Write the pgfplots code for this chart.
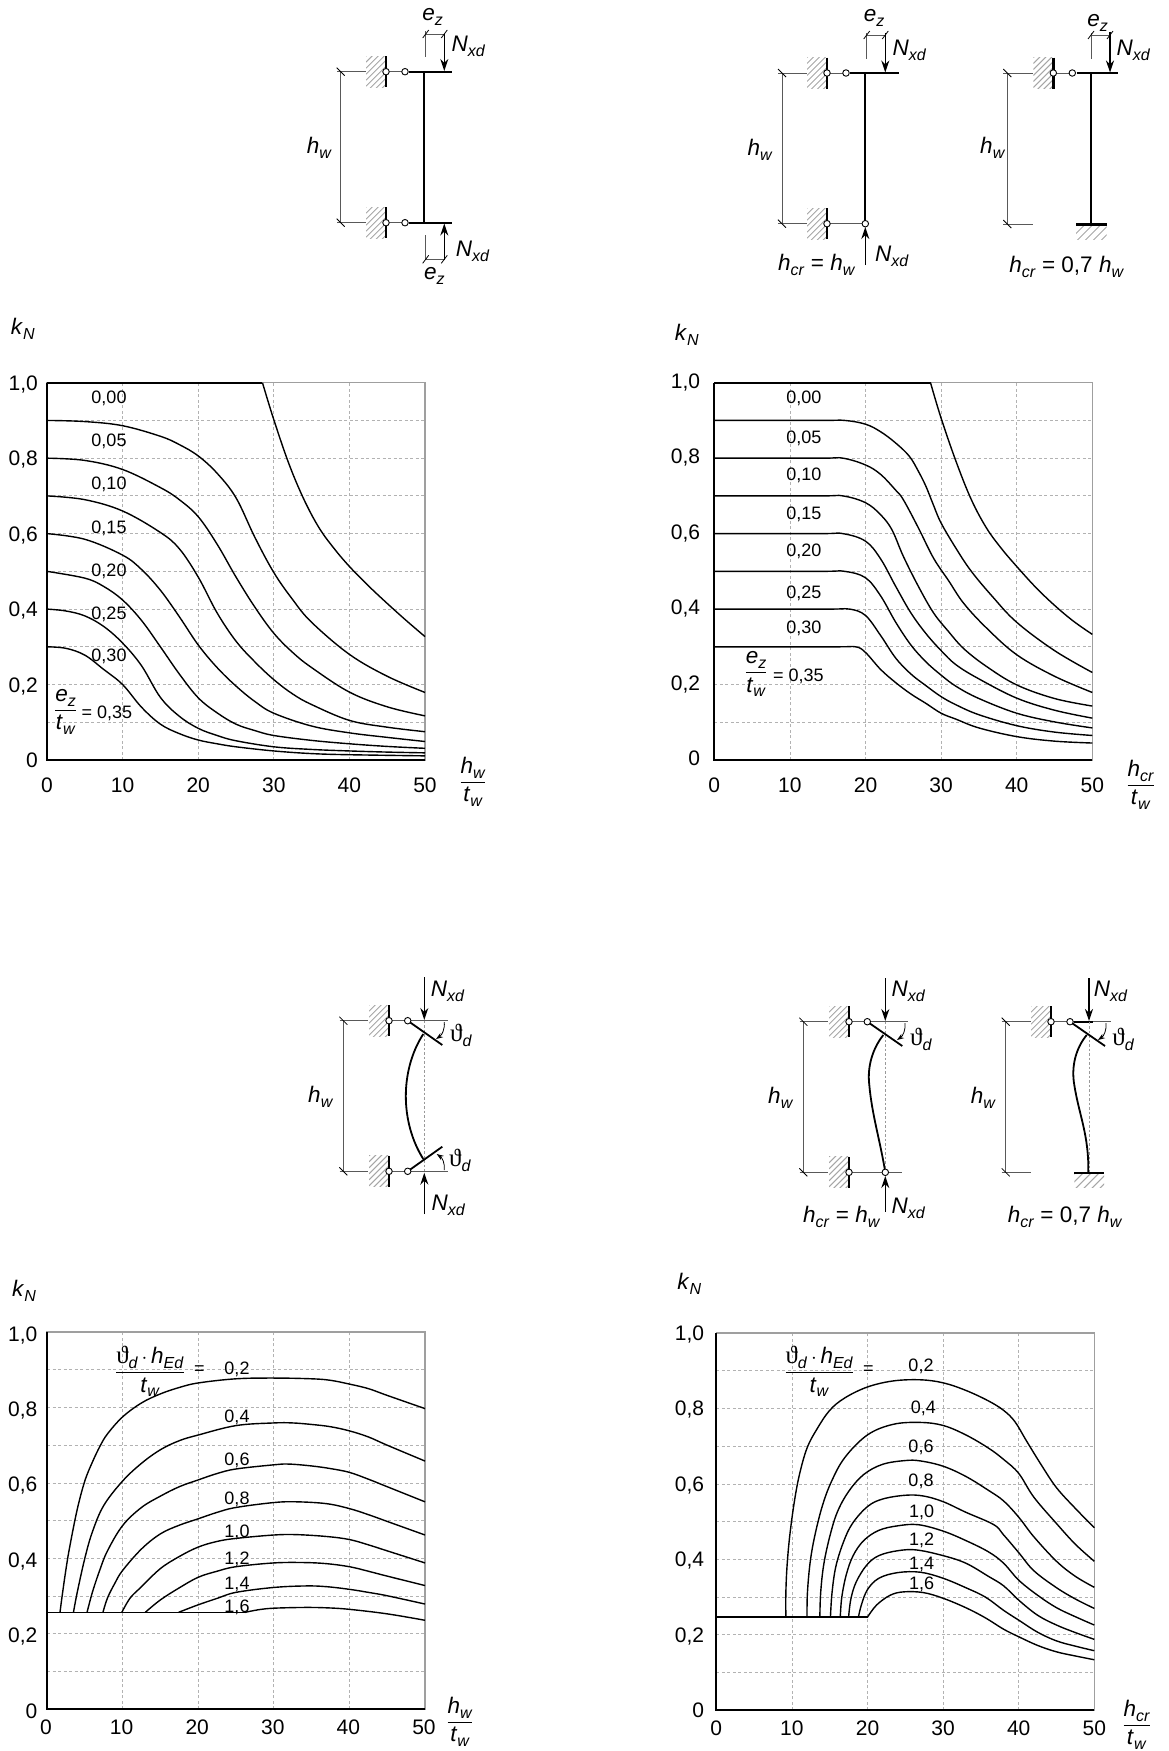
\documentclass[border=0pt]{standalone}
\usepackage{pgfplots}
\pgfplotsset{compat=1.18}
\usepackage{fontspec}
\setmainfont{Liberation Sans}
\newfontfamily\thetafont{Liberation Serif}
\usetikzlibrary{arrows.meta}

% text helpers
\newcommand{\ssub}[2]{\textit{#1}\raisebox{-.22em}{\fontsize{16}{18}\selectfont\textit{#2}}}
\newcommand{\vth}{{\thetafont\fontsize{25}{27}\selectfont ϑ}\raisebox{-.22em}{\fontsize{16}{18}\selectfont\textit{d}}}
\newcommand{\frc}[2]{$\displaystyle{\hbox{#1}\over\hbox{#2}}$}

\pgfplotsset{
  kn/.style={
    scale only axis, width=378pt, height=377.3pt,
    xmin=0, xmax=50, ymin=0, ymax=1,
    xtick={0,10,20,30,40,50},
    ytick={0,0.2,0.4,0.6,0.8,1},
    yticklabels={0,{0,2},{0,4},{0,6},{0,8},{1,0}},
    minor ytick={0.1,0.3,0.5,0.7,0.9},
    major tick length=0pt, minor tick length=0pt,
    tick style={draw=none},
    grid=both,
    grid style={gray!60, line width=0.8pt, dash pattern=on 3pt off 2.5pt},
    minor grid style={gray!60, line width=0.8pt, dash pattern=on 3pt off 2.5pt},
    axis line style={gray!75, line width=1.2pt},
    /pgf/number format/assume math mode=true,
    tick label style={font=\fontsize{21}{24}\selectfont, inner sep=0pt, text height=15pt, text depth=0pt},
    xticklabel style={anchor=center, yshift=-25pt},
    yticklabel style={anchor=east, xshift=-9pt},
    clip=false,
  },
  cv/.style={black, line width=1.4pt, smooth, tension=0.6, no markers, forget plot},
  fl/.style={black, line width=1.7pt, no markers, forget plot},
  fr/.style={black, line width=2.2pt, no markers, forget plot},
}

% schematic parts, coordinates are reference pixels
\tikzset{
  thn/.style={gray!70!black, line width=1pt},
  thk/.style={black, line width=1.8pt},
  wl/.style={black, line width=2.6pt},
  htc/.style={gray!70, line width=1pt},
  arw/.style={black, line width=1.4pt, -{Stealth[length=12pt,width=8pt]}},
  pin/.style={circle, draw=black, fill=white, line width=0.9pt, inner sep=0pt, minimum size=6.5pt},
  lb/.style={font=\fontsize{22.5}{25}\selectfont, inner sep=0pt},
  nm/.style={font=\fontsize{18}{21}\selectfont, inner sep=0pt, text height=13pt, text depth=0pt},
}
\newcommand{\wall}[3]{% wall x, y, second pin x
  \begin{scope}
    \clip (#1-20,#2-15.5) rectangle (#1,#2+15.5);
    \foreach \k in {0,6,...,54} \draw[htc,shift={(#1,#2)}] (-20,-15.5+\k) -- (0,-35.5+\k);
  \end{scope}
  \draw[thn] (#1,#2) -- (#3,#2);
  \draw[wl] (#1,#2-15.5) -- (#1,#2+15.5);
  \node[pin] at (#1,#2) {};
  \node[pin] at (#3,#2) {};
}
\newcommand{\grnd}[3]{% ground x0, x1, y
  \begin{scope}
    \clip (#1,#3) rectangle (#2,#3+15);
    \foreach \k in {0,8,...,48} \draw[htc,shift={(#1,#3)}] (-15+\k,16) -- (1+\k,0);
  \end{scope}
  \draw[wl] (#1,#3) -- (#2,#3);
}
\newcommand{\tka}[2]{\draw[black, line width=0.8pt] (#1-4,#2-4) -- (#1+4,#2+4);}
\newcommand{\tkb}[2]{\draw[black, line width=0.8pt] (#1-3,#2+4) -- (#1+3,#2-4);}
\newcommand{\dimv}[3]{% dim line x, y0, y1 with extension lines
  \draw[thn] (#1,#2) -- (#1,#3);
  \tka{#1}{#2}\tka{#1}{#3}
}

\begin{document}
\begin{tikzpicture}
\path[use as bounding box] (0pt,0pt) rectangle (1168pt,-1751pt);

% top left
\begin{axis}[kn, at={(47pt,-760pt)}, anchor=south west]
\addplot[fr] coordinates {(0,1) (28.5,1)};
\addplot[cv] coordinates {(28.5,1) (30,.902) (32,.785) (34,.69) (36,.615) (38,.56) (40,.513) (42.5,.462) (45,.415) (47.5,.37) (50,.327)};
\addplot[cv] coordinates {(0,.9) (5,.897) (10,.886) (15,.858) (17.5,.836) (20,.806) (22.5,.76) (25,.695) (27.5,.59) (30,.497) (32.5,.425) (35,.365) (40,.28) (45,.222) (50,.179)};
\addplot[cv] coordinates {(0,.8) (5,.794) (10,.77) (15,.722) (17.5,.69) (20,.645) (22.5,.572) (25,.485) (27.5,.405) (30,.336) (32.5,.285) (35,.245) (40,.18) (45,.141) (50,.117)};
\addplot[cv] coordinates {(0,.7) (5,.69) (10,.66) (15,.603) (17.5,.56) (20,.485) (22.5,.39) (25,.315) (27.5,.26) (30,.213) (32.5,.175) (35,.147) (40,.105) (45,.087) (50,.075)};
\addplot[cv] coordinates {(0,.6) (5,.585) (10,.543) (12.5,.505) (15,.45) (17.5,.38) (20,.305) (22.5,.245) (25,.196) (27.5,.155) (30,.124) (35,.09) (40,.072) (45,.06) (50,.049)};
\addplot[cv] coordinates {(0,.5) (5,.482) (7.5,.46) (10,.424) (12.5,.37) (15,.3) (17.5,.228) (20,.165) (22.5,.125) (25,.095) (27.5,.078) (30,.065) (35,.052) (40,.043) (45,.036) (50,.031)};
\addplot[cv] coordinates {(0,.4) (2.5,.395) (5,.382) (7.5,.354) (10,.31) (12.5,.25) (15,.166) (17.5,.116) (20,.084) (22.5,.065) (25,.051) (30,.035) (35,.028) (40,.024) (45,.021) (50,.019)};
\addplot[cv] coordinates {(0,.3) (2.5,.296) (5,.278) (7.5,.24) (10,.2) (12.5,.14) (15,.095) (17.5,.07) (20,.053) (22.5,.043) (25,.035) (30,.024) (35,.017) (40,.014) (50,.011)};
\addplot[fr] coordinates {(0,1) (0,0) (50,0)};
\end{axis}

% top right
\begin{axis}[kn, at={(714.3pt,-760pt)}, anchor=south west,
  yticklabel style={xshift=-5pt, yshift=2pt}]
\addplot[fr] coordinates {(0,1) (28.6,1)};
\addplot[cv] coordinates {(28.6,1) (30,.906) (32,.79) (34,.69) (36,.615) (38,.56) (40,.513) (42.5,.458) (45,.41) (47.5,.368) (50,.333)};
\addplot[cv] coordinates {(0,.9) (14,.9) (17.25,.9) (20,.89) (22,.87) (24,.84) (25.8,.805) (27,.765) (28,.725) (29,.675) (30,.628) (32,.56) (34,.5) (36.8,.433) (40,.365) (45,.29) (50,.232)};
\addplot[cv] coordinates {(0,.8) (14,.8) (17,.8) (20,.782) (22,.757) (24,.715) (25,.69) (27,.615) (29,.535) (31,.475) (33,.415) (36,.35) (40,.279) (45,.222) (50,.179)};
\addplot[cv] coordinates {(0,.7) (14,.7) (17,.7) (20,.682) (22,.65) (23.5,.61) (25,.54) (27,.46) (29,.39) (31,.34) (33,.295) (36,.248) (40,.199) (45,.163) (50,.143)};
\addplot[cv] coordinates {(0,.6) (14,.6) (17,.6) (20,.58) (22,.533) (24,.46) (26,.39) (28,.335) (30,.29) (32,.252) (35,.215) (40,.164) (45,.132) (50,.111)};
\addplot[cv] coordinates {(0,.5) (14,.5) (17.25,.5) (20,.483) (22,.435) (24,.365) (26,.305) (28,.26) (30,.225) (32,.195) (35,.163) (40,.124) (45,.101) (50,.085)};
\addplot[cv] coordinates {(0,.4) (15,.4) (17.9,.4) (20,.383) (22,.33) (24,.27) (26,.228) (28,.197) (30,.168) (32,.146) (35,.12) (40,.091) (45,.074) (50,.065)};
\addplot[cv] coordinates {(0,.3) (16,.3) (18.7,.3) (20,.285) (22,.24) (24,.205) (26,.175) (28,.15) (30,.124) (32,.108) (35,.085) (40,.062) (45,.05) (50,.045)};
\addplot[fr] coordinates {(0,1) (0,0) (50,0)};
\end{axis}

% bottom left
\begin{axis}[kn, at={(47pt,-1709.3pt)}, anchor=south west,
  xticklabel style={yshift=7.5pt, xshift=-1pt},
  yticklabel style={xshift=-0.5pt, yshift=-1.5pt}]
\addplot[fl] coordinates {(0,.257) (26.2,.257)};
\addplot[cv] coordinates {(1.72,.257) (2,.30) (2.5,.37) (3,.43) (4,.53) (5,.605) (6,.655) (7,.697) (8,.73) (10,.775) (12.5,.812) (15,.836) (17.5,.853) (20,.865) (25,.876) (30,.878) (35,.876) (37.5,.872) (40,.862) (42.5,.85) (45,.832) (50,.797)};
\addplot[cv] coordinates {(3.5,.257) (4,.31) (5,.4) (6,.47) (7.5,.54) (10,.605) (12.5,.652) (15,.688) (17.5,.712) (20,.727) (25,.752) (30,.759) (32.5,.759) (35,.755) (37.5,.749) (40,.738) (42.5,.722) (45,.7) (50,.658)};
\addplot[cv] coordinates {(5.3,.257) (6,.31) (7,.37) (8,.42) (10,.487) (12.5,.535) (15,.565) (17.5,.59) (20,.608) (22.5,.625) (25,.637) (30,.648) (32,.65) (35,.645) (37.5,.638) (40,.628) (42.5,.61) (45,.59) (50,.55)};
\addplot[cv] coordinates {(7.4,.257) (8,.295) (9,.335) (10,.368) (12.5,.425) (15,.465) (17.5,.488) (20,.505) (22.5,.522) (25,.535) (30,.548) (33,.55) (37,.545) (40,.532) (42.5,.516) (45,.498) (50,.462)};
\addplot[cv] coordinates {(9.9,.257) (11,.295) (12.5,.325) (15,.373) (17.5,.405) (20,.43) (22.5,.445) (25,.453) (30,.462) (33,.463) (37,.458) (40,.45) (42.5,.436) (45,.42) (50,.388)};
\addplot[cv] coordinates {(13,.257) (15,.29) (17.5,.322) (20,.35) (22.5,.366) (25,.378) (30,.388) (34,.389) (37,.386) (40,.378) (42.5,.366) (45,.353) (50,.328)};
\addplot[cv] coordinates {(17.4,.257) (20,.277) (22.5,.294) (25,.31) (30,.323) (34.3,.327) (37,.325) (40,.318) (42.5,.31) (45,.301) (50,.279)};
\addplot[cv] coordinates {(26.2,.257) (28,.264) (30,.268) (34,.27) (37,.269) (40,.265) (45,.253) (50,.236)};
\addplot[fr] coordinates {(0,1) (0,0) (50,0)};
\end{axis}

% bottom right
\begin{axis}[kn, at={(716.3pt,-1710.3pt)}, anchor=south west,
  xticklabel style={yshift=7pt},
  yticklabel style={xshift=-3pt}]
\addplot[fl] coordinates {(0,.247) (20,.247)};
\addplot[cv] coordinates {(9.2,.247) (9.2,.31) (9.35,.38) (9.7,.46) (10.3,.55) (11,.625) (12,.695) (13.3,.745) (15,.795) (17,.828) (20,.857) (23.4,.873) (27,.876) (30,.868) (33,.848) (36,.82) (38,.795) (39.5,.765) (41,.715) (43,.65) (45,.59) (47.5,.535) (50,.484)};
\addplot[cv] coordinates {(12,.247) (12.05,.31) (12.4,.39) (13,.46) (14,.54) (15.2,.605) (17,.67) (20,.73) (23.4,.758) (27,.763) (30,.755) (33,.73) (36,.695) (38,.665) (40,.628) (42,.565) (45,.495) (47.5,.44) (50,.395)};
\addplot[cv] coordinates {(13.7,.247) (13.8,.31) (14.2,.385) (15,.46) (16,.525) (17.5,.58) (19.5,.625) (22,.652) (25,.662) (27,.661) (30,.647) (33,.62) (36,.583) (38,.555) (40,.512) (42,.46) (45,.395) (47.5,.355) (50,.326)};
\addplot[cv] coordinates {(15.1,.247) (15.3,.31) (15.8,.38) (16.8,.445) (18,.495) (20,.54) (22,.56) (25,.57) (27.4,.568) (30,.553) (33,.525) (36.7,.492) (38,.465) (40,.418) (42,.37) (45,.325) (47.5,.295) (50,.27)};
\addplot[cv] coordinates {(16.4,.247) (16.6,.3) (17.2,.36) (18.1,.41) (19.5,.45) (21.5,.477) (24,.489) (26.7,.492) (30,.475) (33,.45) (36,.42) (38,.39) (40,.345) (42.5,.305) (45,.272) (47.5,.248) (50,.226)};
\addplot[cv] coordinates {(17.5,.247) (17.8,.295) (18.5,.34) (19.9,.385) (21.5,.41) (24,.423) (26.5,.425) (30,.41) (33,.39) (36,.355) (38,.33) (40,.292) (42.5,.252) (45,.226) (47.5,.206) (50,.188)};
\addplot[cv] coordinates {(18.8,.247) (19.2,.28) (20,.32) (21.5,.35) (24,.365) (27,.366) (30,.35) (33,.325) (35.6,.3) (38,.265) (40,.239) (42.5,.207) (45,.184) (47.5,.17) (50,.158)};
\addplot[cv] coordinates {(20,.247) (21.2,.279) (23,.305) (24.8,.314) (27.4,.312) (30,.297) (33,.272) (35.6,.245) (38,.215) (40,.195) (42.5,.172) (45,.155) (47.5,.144) (50,.134)};
\addplot[fr] coordinates {(0,1) (0,0) (50,0)};
\end{axis}

\begin{scope}[x=1pt,y=-1pt]
% curve labels
\foreach \t/\yy in {{0,00}/396.7,{0,05}/440,{0,10}/483,{0,15}/526.7,{0,20}/570,{0,25}/612.7,{0,30}/655}
  \node[nm] at (109,\yy) {\t};
\node[lb] at (65.7,711.7) {\frc{\ssub{e}{z}}{\ssub{t}{w}}};
\node[nm] at (107,712) {= 0,35};
\node[lb] at (473,781.7) {\frc{\ssub{h}{w}}{\ssub{t}{w}}};
\node[lb] at (22.7,329) {\ssub{k}{N}};

\foreach \t/\yy in {{0,00}/396.7,{0,05}/436.7,{0,10}/474.3,{0,15}/513.3,{0,20}/550,{0,25}/591.7,{0,30}/626.7}
  \node[nm] at (803.9,\yy) {\t};
\node[lb] at (756,674.3) {\frc{\ssub{e}{z}}{\ssub{t}{w}}};
\node[nm] at (798.3,675) {= 0,35};
\node[lb] at (1140.7,785) {\frc{\ssub{h}{cr}}{\ssub{t}{w}}};
\node[lb] at (686.7,335) {\ssub{k}{N}};

\foreach \t/\yy in {{0,2}/1368.3,{0,4}/1416,{0,6}/1459.3,{0,8}/1498.3,{1,0}/1530.7,{1,2}/1557.7,{1,4}/1582.7,{1,6}/1605.7}
  \node[nm] at (237,\yy) {\t};
\node[lb] at (150,1371.7) {\frc{\vth\,$\cdot$\,\ssub{h}{Ed}}{\ssub{t}{w}}};
\node[nm] at (199.3,1368.3) {=};
\node[lb] at (460,1721.7) {\frc{\ssub{h}{w}}{\ssub{t}{w}}};
\node[lb] at (24,1290.7) {\ssub{k}{N}};

\foreach \t/\xx/\yy in {{0,2}/921/1365,{0,4}/923.3/1407.3,{0,6}/921/1446,{0,8}/921/1480,{1,0}/921.7/1510.7,{1,2}/921.7/1539.3,{1,4}/921.7/1563.3,{1,6}/921.7/1583.3}
  \node[nm] at (\xx,\yy) {\t};
\node[lb] at (819.3,1371.7) {\frc{\vth\,$\cdot$\,\ssub{h}{Ed}}{\ssub{t}{w}}};
\node[nm] at (868.3,1367.7) {=};
\node[lb] at (1136.7,1725) {\frc{\ssub{h}{cr}}{\ssub{t}{w}}};
\node[lb] at (689.3,1284) {\ssub{k}{N}};

% schematic top left
\draw[thn] (337,71.7) -- (366,71.7); \draw[thn] (337,222.7) -- (366,222.7);
\dimv{340.7}{71.7}{222.7}
\wall{386}{71.7}{405}\wall{386}{222.7}{405}
\draw[thk] (409,71.7) -- (452,71.7); \draw[thk] (409,222.7) -- (452,222.7);
\draw[thk] (424.3,71.7) -- (424.3,222.7);
\draw[arw] (444.3,34) -- (444.3,71);
\draw[arw] (444.3,260) -- (444.3,223.5);
\draw[thn] (425.7,31) -- (425.7,57.3); \draw[thn] (425.7,34) -- (444.3,34);
\tkb{425.7}{34}\tkb{444.3}{34}
\draw[thn] (425.7,235) -- (425.7,260); \draw[thn] (425.7,259.3) -- (444.3,259.3);
\tkb{425.7}{259.3}\tkb{444.3}{259.3}
\node[lb] at (432.7,16.7) {\ssub{e}{z}};
\node[lb] at (468.3,46.7) {\ssub{N}{xd}};
\node[lb] at (434.3,276) {\ssub{e}{z}};
\node[lb] at (472.7,251.7) {\ssub{N}{xd}};
\node[lb] at (319.3,147.7) {\ssub{h}{w}};

% schematic top middle
\draw[thn] (778,73) -- (807,73); \draw[thn] (778,223.7) -- (807,223.7);
\dimv{782}{73}{223.7}
\wall{827}{73}{846}\wall{827}{223.7}{865.3}
\draw[thk] (850,73) -- (899,73);
\draw[thk] (865.3,73) -- (865.3,220.5);
\draw[arw] (885.3,33) -- (885.3,72.5);
\draw[arw] (865.3,265) -- (865.3,227);
\draw[thn] (866.7,33) -- (866.7,59); \draw[thn] (866.7,35) -- (885.3,35);
\tkb{866.7}{35}\tkb{885.3}{35}
\node[lb] at (874,18.3) {\ssub{e}{z}};
\node[lb] at (909.3,50) {\ssub{N}{xd}};
\node[lb] at (892,256.7) {\ssub{N}{xd}};
\node[lb] at (760,150) {\ssub{h}{w}};
\node[lb] at (816.7,265) {\ssub{h}{cr} = \ssub{h}{w}};

% schematic top right
\draw[thn] (1003.3,73) -- (1033,73); \draw[thn] (1003.3,224) -- (1033.3,224);
\dimv{1007.3}{73}{224}
\wall{1053.3}{73}{1072.3}
\draw[thk] (1076.7,73) -- (1118.3,73);
\draw[thk] (1091.3,73) -- (1091.3,224);
\grnd{1076}{1106.7}{224.5}
\draw[arw] (1110,31.7) -- (1110,72.5);
\draw[thn] (1091,33) -- (1091,59); \draw[thn] (1091,35) -- (1110,35);
\tkb{1091}{35}\tkb{1110}{35}
\node[lb] at (1097.7,22.7) {\ssub{e}{z}};
\node[lb] at (1133.3,50) {\ssub{N}{xd}};
\node[lb] at (992.7,148.3) {\ssub{h}{w}};
\node[lb] at (1066.7,266.7) {\ssub{h}{cr} = 0,7 \ssub{h}{w}};

% schematic bottom left
\draw[thn] (339.5,1020.7) -- (368,1020.7); \draw[thn] (339.5,1171.3) -- (368,1171.3);
\dimv{343.3}{1020.7}{1171.3}
\draw[thn] (407.7,1020.7) -- (448.3,1020.7); \draw[thn] (407.7,1171.3) -- (448.3,1171.3);
\draw[gray!80, line width=0.7pt, dash pattern=on 2.5pt off 2pt] (424.3,1020.7) -- (424.3,1171.3);
\draw[thk] (407.7,1020.7) -- (442.3,1045); \draw[thk] (407.7,1171.3) -- (442.3,1146.7);
\draw[thk] (423.3,1034) .. controls (400,1070) and (400,1122) .. (423.3,1159);
\wall{389}{1020.7}{407.7}\wall{389}{1171.3}{407.7}
\draw[arw] (424.3,977.3) -- (424.3,1020);
\draw[arw] (424.3,1214) -- (424.3,1172.7);
\draw[black, line width=0.8pt, -{Stealth[length=7pt,width=5pt]}] (444.3,1022) to[bend left=30] (436,1039);
\draw[black, line width=0.8pt, -{Stealth[length=7pt,width=5pt]}] (444.3,1170) to[bend right=30] (436.7,1154);
\node[lb] at (447.7,991.7) {\ssub{N}{xd}};
\node[lb] at (448.3,1205.7) {\ssub{N}{xd}};
\node[lb] at (461,1035) {\vth};
\node[lb] at (460,1160) {\vth};
\node[lb] at (320.7,1096.7) {\ssub{h}{w}};

% schematic bottom middle
\draw[thn] (799.5,1021.7) -- (828,1021.7); \draw[thn] (799.5,1172.3) -- (828,1172.3);
\dimv{803.3}{1021.7}{1172.3}
\draw[thn] (867.3,1021.7) -- (907.7,1021.7); \draw[thn] (849,1172.3) -- (901.7,1172.3);
\draw[gray!80, line width=0.7pt, dash pattern=on 2.5pt off 2pt] (885.3,1021.7) -- (885.3,1172.3);
\draw[thk] (867.3,1021.7) -- (902.3,1046);
\draw[thk] (883.3,1035) .. controls (873,1048) and (867,1066) .. (869.3,1085) .. controls (872,1115) and (880,1140) .. (885.3,1172.3);
\wall{849}{1021.7}{867.3}\wall{849}{1172.3}{885.3}
\draw[arw] (885.3,978.3) -- (885.3,1021);
\draw[arw] (885.3,1211.7) -- (885.3,1176);
\draw[black, line width=0.8pt, -{Stealth[length=7pt,width=5pt]}] (905,1023) to[bend left=30] (897,1040);
\node[lb] at (908.3,991.7) {\ssub{N}{xd}};
\node[lb] at (908.3,1208.3) {\ssub{N}{xd}};
\node[lb] at (921,1039.3) {\vth};
\node[lb] at (780.7,1098.3) {\ssub{h}{w}};
\node[lb] at (841.7,1216.7) {\ssub{h}{cr} = \ssub{h}{w}};

% schematic bottom right
\draw[thn] (1001.7,1021.7) -- (1031,1021.7); \draw[thn] (1001.7,1172.3) -- (1031,1172.3);
\dimv{1005.7}{1021.7}{1172.3}
\draw[thn] (1070,1021.7) -- (1110.7,1021.7);
\draw[thk] (1074,1021.7) -- (1093,1021.7);
\draw[gray!80, line width=0.7pt, dash pattern=on 2.5pt off 2pt] (1089,1021.7) -- (1089,1172.3);
\draw[thk] (1070,1021.7) -- (1105,1046);
\draw[thk] (1086.7,1035) .. controls (1076,1048) and (1071,1066) .. (1074.3,1085) .. controls (1079,1115) and (1089,1135) .. (1088.3,1172.3);
\wall{1051}{1021.7}{1070}
\grnd{1074.3}{1104}{1172.8}
\draw[arw] (1089,978.3) -- (1089,1021);
\draw[black, line width=0.8pt, -{Stealth[length=7pt,width=5pt]}] (1106,1023) to[bend left=30] (1098,1040);
\node[lb] at (1110.7,991.7) {\ssub{N}{xd}};
\node[lb] at (1123.3,1039.3) {\vth};
\node[lb] at (983.3,1098.3) {\ssub{h}{w}};
\node[lb] at (1065,1216.7) {\ssub{h}{cr} = 0,7 \ssub{h}{w}};
\end{scope}
\end{tikzpicture}
\end{document}
